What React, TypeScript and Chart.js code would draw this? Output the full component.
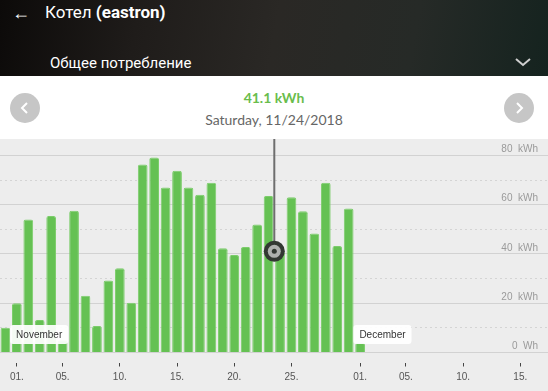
import React, { useEffect, useRef } from 'react';
import { Chart, registerables } from 'chart.js';

Chart.register(...registerables);

// Day numbers: 0 = Oct 31, 1 = Nov 1, ... 30 = Nov 30, 31 = Dec 1
const dayNumbers = [0, 1, 2, 3, 4, 5, 6, 7, 8, 9, 10, 11, 12, 13, 14, 15, 16, 17, 18, 19, 20, 21, 22, 23, 24, 25, 26, 27, 28, 29, 30, 31];
const dailyKWh = [10, 20, 54, 13.2, 55.4, 5, 57.6, 23, 10.8, 29.2, 34.2, 20.2, 76.3, 79.2, 67, 73.8, 67, 64.1, 68.9, 42.3, 39.6, 42.8, 52, 63.6, 41.1, 63, 57.4, 48.3, 68.9, 43.2, 58.5, 4];
const tickDays = [1, 5, 10, 15, 20, 25, 31, 35, 40, 45];
const tickLabels = ['01.', '05.', '10.', '15.', '20.', '25.', '01.', '05.', '10.', '15.'];
const monthStartDays = [1, 31];
const monthNames = ['November', 'December'];
const yTickValues = [0, 10, 20, 30, 40, 50, 60, 70, 80];
const selectedDay = 24;
const selectedDateText = 'Saturday, 11/24/2018';
const xRangeMin = -0.472;
const xRangeMax = 47.42;
const yRangeMax = 86.7;

const AXIS_FONT = '"Liberation Sans", Arial, sans-serif';

const overlayPlugin = {
  id: 'overlay',
  afterDatasetsDraw(chart: any) {
    const { ctx, chartArea, scales } = chart;
    const xs = scales.x;
    const ys = scales.y;
    ctx.save();
    ctx.font = '10px ' + AXIS_FONT;
    ctx.textBaseline = 'middle';
    monthStartDays.forEach((d, i) => {
      const left = xs.getPixelForValue(d - 0.5) - 1;
      const w = ctx.measureText(monthNames[i]).width + 12;
      const h = 19;
      const top = chartArea.bottom - 27.5;
      ctx.fillStyle = 'rgba(255,255,255,0.93)';
      ctx.beginPath();
      ctx.roundRect(left, top, w, h, 3);
      ctx.fill();
      ctx.fillStyle = '#333';
      ctx.fillText(monthNames[i], left + 6, top + h / 2 + 0.5);
    });
    const idx = dayNumbers.indexOf(selectedDay);
    const mx = xs.getPixelForValue(selectedDay - 0.5);
    const my = ys.getPixelForValue(dailyKWh[idx]);
    ctx.strokeStyle = '#6e6e6e';
    ctx.lineWidth = 2;
    ctx.beginPath();
    ctx.moveTo(mx, chartArea.top);
    ctx.lineTo(mx, my);
    ctx.stroke();
    ctx.fillStyle = '#323732';
    ctx.beginPath();
    ctx.arc(mx, my, 10.5, 0, Math.PI * 2);
    ctx.fill();
    ctx.fillStyle = '#aeb0ae';
    ctx.beginPath();
    ctx.arc(mx, my, 6.5, 0, Math.PI * 2);
    ctx.fill();
    ctx.fillStyle = '#323732';
    ctx.beginPath();
    ctx.arc(mx, my, 2.5, 0, Math.PI * 2);
    ctx.fill();
    ctx.restore();
  },
};

function EnergyChart() {
  const ref = useRef<HTMLCanvasElement | null>(null);
  useEffect(() => {
    if (!ref.current) return;
    const chart = new Chart(ref.current, {
      type: 'bar',
      data: {
        datasets: [
          {
            data: dayNumbers.map((d, i) => ({ x: d, y: dailyKWh[i] })),
            backgroundColor: '#65c153',
            borderColor: '#7ccd6b',
            borderWidth: 1,
            borderSkipped: 'start',
            borderRadius: { topLeft: 2, topRight: 2, bottomLeft: 0, bottomRight: 0 },
            barPercentage: 0.85,
            categoryPercentage: 1,
            xAxisID: 'x',
            yAxisID: 'y',
          } as any,
        ],
      },
      options: {
        animation: false,
        responsive: false,
        maintainAspectRatio: false,
        layout: { padding: 0 },
        plugins: { legend: { display: false }, tooltip: { enabled: false } },
        scales: {
          x: {
            type: 'linear',
            position: 'bottom',
            weight: 0,
            offset: false,
            min: xRangeMin,
            max: xRangeMax,
            grid: { display: false, offset: false },
            border: { display: false },
            ticks: { display: false },
            afterFit: (a: any) => {
              a.height = 10;
              a.paddingLeft = 0;
              a.paddingRight = 0;
            },
          },
          x2: {
            type: 'linear',
            position: 'bottom',
            weight: 1,
            offset: false,
            min: xRangeMin,
            max: xRangeMax,
            afterBuildTicks: (a: any) => {
              a.ticks = tickDays.map((v) => ({ value: v }));
            },
            grid: {
              display: true,
              offset: false,
              drawOnChartArea: false,
              drawTicks: true,
              tickLength: 4,
              tickColor: '#444',
              tickWidth: 1,
              color: 'rgba(0,0,0,0)',
            },
            border: { display: false },
            ticks: {
              padding: 5,
              autoSkip: false,
              maxRotation: 0,
              color: '#555',
              font: { size: 10, family: AXIS_FONT },
              callback: (_v: any, i: number) => tickLabels[i] ?? '',
            },
            afterFit: (a: any) => {
              a.height = 28.5;
              a.paddingLeft = 0;
              a.paddingRight = 0;
            },
          },
          y: {
            type: 'linear',
            position: 'right',
            min: 0,
            max: yRangeMax,
            afterBuildTicks: (a: any) => {
              a.ticks = yTickValues.map((v) => ({ value: v }));
            },
            grid: {
              drawTicks: false,
              lineWidth: 1,
              color: (c: any) => (c.tick && c.tick.value % 20 === 0 ? '#d2d2d2' : '#d4d4d4'),
            },
            border: {
              display: false,
              dash: (c: any) => (c.tick && c.tick.value % 20 !== 0 ? [2, 3] : []),
            },
            ticks: {
              mirror: true,
              padding: -10,
              labelOffset: -6,
              color: '#9a9a9a',
              font: { size: 10, family: AXIS_FONT },
              callback: (v: any) => (v % 20 === 0 ? (v === 0 ? '0  Wh' : v + '  kWh') : ''),
            },
            afterFit: (a: any) => {
              a.width = 0;
              a.paddingTop = 0;
              a.paddingBottom = 0;
            },
          },
        } as any,
      },
      plugins: [overlayPlugin],
    });
    return () => chart.destroy();
  }, []);
  return <canvas ref={ref} width={548} height={252} style={{ display: 'block', width: 548, height: 252 }} />;
}

function NavButton({ left, dir }: { left: number; dir: 'l' | 'r' }) {
  return (
    <div
      style={{
        position: 'absolute',
        left: left - 15,
        top: 93,
        width: 30,
        height: 30,
        borderRadius: 15,
        background: '#c6c6c6',
      }}
    >
      <svg width={30} height={30} style={{ display: 'block' }}>
        <polyline
          points={dir === 'l' ? '17,10 12,15 17,20' : '13,10 18,15 13,20'}
          fill="none"
          stroke="#fff"
          strokeWidth={2}
        />
      </svg>
    </div>
  );
}

export default function App() {
  useEffect(() => {
    document.body.style.margin = '0';
  }, []);
  const idx = dayNumbers.indexOf(selectedDay);
  return (
    <div style={{ position: 'relative', width: 548, height: 391, overflow: 'hidden', fontFamily: 'Roboto, sans-serif', background: '#fff' }}>
      <div
        style={{
          position: 'absolute',
          left: 0,
          top: 0,
          width: 548,
          height: 76,
          background: 'linear-gradient(100deg, #0c0a09 0%, #1f1c1a 25%, #2a2825 50%, #262a27 75%, #15231f 100%)',
        }}
      >
        <div style={{ position: 'absolute', left: 12, top: 0, height: 25, lineHeight: '25px', color: '#fff', fontSize: 18 }}>←</div>
        <div style={{ position: 'absolute', left: 45, top: 0, height: 25, lineHeight: '25px', color: '#fff', fontSize: 17, whiteSpace: 'nowrap' }}>
          Котел <b>(eastron)</b>
        </div>
        <div style={{ position: 'absolute', left: 50, top: 50, height: 26, lineHeight: '26px', color: '#fff', fontSize: 15, whiteSpace: 'nowrap' }}>
          Общее потребление
        </div>
        <svg width={20} height={14} style={{ position: 'absolute', left: 513, top: 55 }}>
          <polyline points="3,4 10,10 17,4" fill="none" stroke="#cfcfcf" strokeWidth={2} />
        </svg>
      </div>
      <div style={{ position: 'absolute', left: 0, top: 76, width: 548, height: 63, background: '#fff' }}>
        <div style={{ position: 'absolute', left: 0, width: 548, top: 12, height: 20, lineHeight: '20px', textAlign: 'center', color: '#69bd4c', fontFamily: 'Lato, sans-serif', fontWeight: 700, fontSize: 14 }}>
          {dailyKWh[idx]} kWh
        </div>
        <div style={{ position: 'absolute', left: 0, width: 548, top: 34, height: 20, lineHeight: '20px', textAlign: 'center', color: '#666', fontFamily: 'Lato, sans-serif', fontSize: 14 }}>
          {selectedDateText}
        </div>
      </div>
      <NavButton left={25} dir="l" />
      <NavButton left={519} dir="r" />
      <div style={{ position: 'absolute', left: 0, top: 139, width: 548, height: 252, background: '#ededed' }}>
        <EnergyChart />
      </div>
    </div>
  );
}
